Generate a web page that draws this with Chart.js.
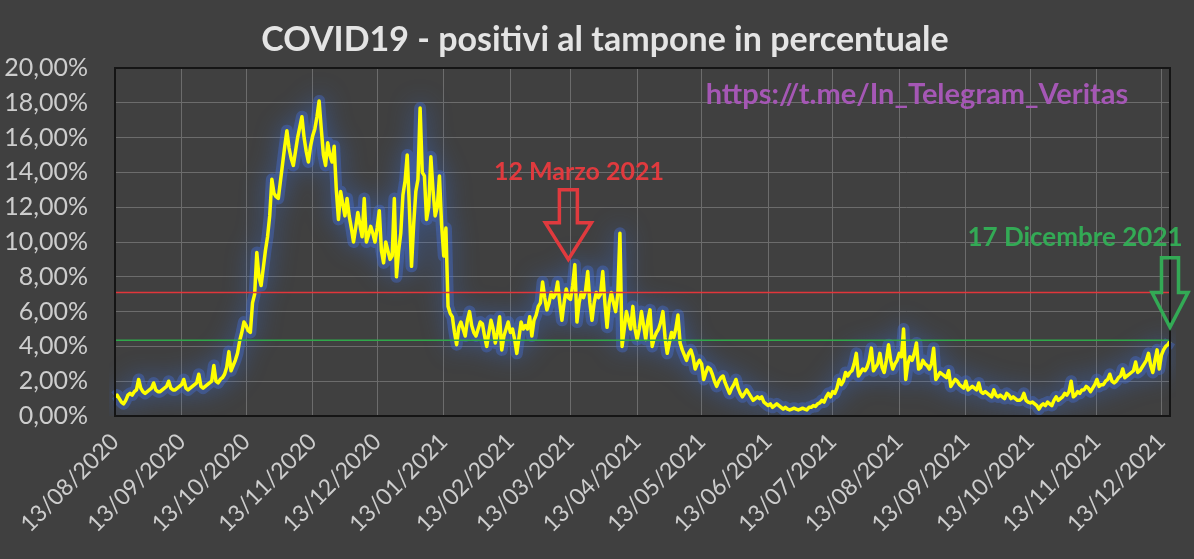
<!DOCTYPE html>
<html>
<head>
<meta charset="utf-8">
<script src="https://cdn.jsdelivr.net/npm/chart.js@4.4.0/dist/chart.umd.min.js"></script>
<style>
  html, body { margin: 0; padding: 0; background: #404040; }
  #grafico { display: block; }
</style>
</head>
<body>
<canvas id="grafico" width="1194" height="559"></canvas>
<script>
// positivi al tampone (%), un valore al giorno dal 13/08/2020 al 17/12/2021
const ago2020 = [1.1,1.2,1.0,0.8,0.7,0.9,1.2,1.3,1.2,1.4,1.5,2.1,1.6,1.4,1.3,1.4,1.5,1.6,1.9];
const set2020 = [1.5,1.4,1.4,1.5,1.6,1.7,2.0,1.6,1.5,1.5,1.6,1.7,1.8,2.1,1.6,1.5,1.6,1.7,1.8,1.9,2.4,1.7,1.6,1.7,1.8,1.9,2.0,2.9,2.0,1.9];
const ott2020 = [2.1,2.2,2.4,2.8,3.7,2.6,2.9,3.2,3.6,4.3,4.8,5.4,5.2,4.9,4.8,6.5,7.0,9.4,8.0,7.5,8.5,9.5,10.3,11.5,13.6,12.8,12.6,12.5,13.5,14.5,15.5];
const nov2020 = [16.4,15.4,14.8,14.4,15.2,16.0,16.6,17.2,16.0,15.2,14.6,15.5,16.1,16.5,17.2,18.1,16.5,15.0,14.4,15.7,15.0,14.6,15.5,13.0,11.3,12.9,12.2,11.5,12.5,11.5];
const dic2020 = [10.8,10.0,10.8,11.7,11.0,10.3,12.5,10.0,10.4,10.9,10.5,10.0,10.8,11.8,9.5,8.8,10.0,9.5,9.0,9.2,12.5,8.0,9.5,10.5,12.7,13.5,15.0,12.0,8.6,11.0,12.9];
const gen2021 = [13.6,17.7,14.0,13.8,11.3,12.0,14.9,13.0,11.5,12.0,13.8,11.0,9.2,10.8,6.3,5.9,5.7,4.8,4.1,5.1,5.4,5.0,4.6,5.5,6.0,5.2,4.8,4.6,5.0,5.4,5.3];
const feb2021 = [4.6,4.0,4.8,5.5,5.0,4.2,4.8,5.7,3.8,4.6,5.0,5.4,4.8,5.0,4.4,3.6,4.5,5.4,5.0,5.2,5.0,5.7,4.6,5.5,5.8,6.3,6.5,7.7];
const mar2021 = [6.8,6.1,6.5,7.1,6.8,7.0,7.7,6.5,5.5,6.5,7.3,6.8,6.7,7.5,8.7,5.4,6.5,7.1,6.8,7.2,8.3,6.5,5.5,6.5,7.1,6.8,7.0,8.3,6.5,5.1,6.5];
const apr2021 = [7.1,6.5,6.0,7.0,10.5,4.0,5.0,6.0,5.5,5.0,6.3,5.0,4.4,5.0,6.0,5.2,4.4,5.5,6.1,4.0,4.5,4.8,5.0,5.4,6.0,4.5,3.6,4.2,4.8,4.5];
const mag2021 = [5.0,5.8,4.2,3.8,3.5,3.2,3.6,3.8,3.4,2.7,3.0,3.2,3.0,2.1,2.5,2.8,2.7,2.4,2.0,1.7,2.0,2.2,2.3,1.9,1.6,1.3,1.6,1.8,2.1,1.6,1.3];
const giu2021 = [1.1,1.3,1.5,1.3,1.1,0.9,1.0,1.1,1.0,1.1,0.8,0.7,0.6,0.7,0.5,0.6,0.7,0.6,0.5,0.4,0.5,0.4,0.35,0.4,0.45,0.4,0.35,0.4,0.45,0.4];
const lug2021 = [0.35,0.5,0.5,0.6,0.55,0.7,0.75,0.9,0.8,1.1,1.3,1.1,1.4,1.3,1.6,2.1,1.8,2.0,2.5,2.3,2.5,2.6,3.0,3.6,2.3,2.5,2.7,2.6,2.8,3.2,3.9];
const ago2021 = [2.6,2.8,3.0,3.6,2.8,2.5,3.2,4.1,3.2,2.7,3.0,3.2,3.6,3.4,5.0,2.1,3.0,3.4,3.2,3.6,4.2,2.7,2.8,3.2,3.0,2.9,2.7,3.0,3.9,2.1,2.3];
const set2021 = [2.5,2.4,2.3,2.2,2.6,1.7,1.9,2.1,2.0,1.8,1.7,1.6,2.0,1.5,1.6,1.7,1.6,1.5,1.9,1.4,1.3,1.4,1.3,1.2,1.1,1.5,1.2,1.1,1.2,1.1];
const ott2021 = [1.0,1.3,1.2,1.0,1.1,1.0,0.9,0.9,1.0,1.3,0.9,0.8,0.75,0.8,0.7,0.6,0.4,0.6,0.7,0.6,0.8,0.7,0.6,0.9,1.1,0.9,1.0,1.1,1.3,1.2,1.4];
const nov2021 = [2.0,1.1,1.2,1.4,1.3,1.5,1.5,1.7,1.6,1.4,1.6,1.8,2.1,1.7,1.8,1.8,2.0,2.1,2.4,2.0,1.9,2.0,2.2,2.3,2.7,2.2,2.3,2.4,2.5,2.6];
const dic2021 = [3.1,2.5,2.6,2.8,3.0,3.2,3.6,2.9,2.5,3.2,3.8,2.7,3.5,3.8,4.0,4.1,4.3];

const serie = [].concat(ago2020, set2020, ott2020, nov2020, dic2020, gen2021, feb2021,
  mar2021, apr2021, mag2021, giu2021, lug2021, ago2021, set2021, ott2021, nov2021, dic2021);

const etichetteMesi = ['13/08/2020','13/09/2020','13/10/2020','13/11/2020','13/12/2020',
  '13/01/2021','13/02/2021','13/03/2021','13/04/2021','13/05/2021','13/06/2021',
  '13/07/2021','13/08/2021','13/09/2021','13/10/2021','13/11/2021','13/12/2021'];

const sogliaRossa = 7.1;
const sogliaVerde = 4.35;

const titolo = 'COVID19 - positivi al tampone in percentuale';
const link = 'https://t.me/In_Telegram_Veritas';

// date giornaliere per l'asse x
const due = n => String(n).padStart(2, '0');
const giorni = serie.map((v, i) => {
  const d = new Date(2020, 7, 13 + i);
  return due(d.getDate()) + '/' + due(d.getMonth() + 1) + '/' + d.getFullYear();
});

function freccia(c, cx, yTop, yHead, yTip, sw, hw, colore) {
  c.beginPath();
  c.moveTo(cx - sw, yTop); c.lineTo(cx + sw, yTop); c.lineTo(cx + sw, yHead);
  c.lineTo(cx + hw, yHead); c.lineTo(cx, yTip); c.lineTo(cx - hw, yHead);
  c.lineTo(cx - sw, yHead); c.closePath();
  c.strokeStyle = colore; c.lineWidth = 3.5; c.lineJoin = 'miter';
  c.stroke();
}

const bagliore = {
  id: 'bagliore',
  beforeDatasetDraw(chart, args) {
    if (args.index !== 1) return;
    chart.ctx.save();
    chart.ctx.shadowColor = 'rgba(55,115,235,0.95)';
    chart.ctx.shadowBlur = 24;
  },
  afterDatasetDraw(chart, args) {
    if (args.index === 1) chart.ctx.restore();
  }
};

const soglie = {
  id: 'soglie',
  afterDatasetsDraw(chart) {
    const c = chart.ctx, a = chart.chartArea, y = chart.scales.y;
    c.save();
    c.lineWidth = 1.5;
    c.strokeStyle = '#e2363b';
    c.beginPath(); c.moveTo(a.left, y.getPixelForValue(sogliaRossa)); c.lineTo(a.right, y.getPixelForValue(sogliaRossa)); c.stroke();
    c.strokeStyle = '#2fa84a';
    c.beginPath(); c.moveTo(a.left, y.getPixelForValue(sogliaVerde)); c.lineTo(a.right, y.getPixelForValue(sogliaVerde)); c.stroke();
    c.restore();
  }
};

const testi = {
  id: 'testi',
  afterDraw(chart) {
    const c = chart.ctx, a = chart.chartArea, x = chart.scales.x, y = chart.scales.y;
    c.save();
    c.strokeStyle = '#151515'; c.lineWidth = 2;
    c.strokeRect(a.left, a.top, a.right - a.left, a.bottom - a.top);

    c.textAlign = 'center'; c.textBaseline = 'alphabetic';
    c.font = 'bold 34px Lato';
    c.fillStyle = '#e4e4e4';
    c.fillText(titolo, 605, 51);

    c.font = 'bold 29px Lato';
    c.fillStyle = '#a557b5';
    c.fillText(link, 917, 104);

    // 12 marzo
    const xm = x.getPixelForValue(giorni.indexOf('12/03/2021'));
    c.font = 'bold 25px Lato';
    c.fillStyle = '#e03a3e';
    c.fillText('12 Marzo 2021', 579, 180);
    freccia(c, xm, y.getPixelForValue(13.0), y.getPixelForValue(11.1), y.getPixelForValue(9.0), 9, 23, '#e03a3e');

    // 17 dicembre
    const xd = x.getPixelForValue(serie.length - 1);
    c.font = 'bold 26px Lato';
    c.fillStyle = '#33aa55';
    c.fillText('17 Dicembre 2021', 1075, 246);
    freccia(c, xd, y.getPixelForValue(9.1), y.getPixelForValue(7.1), y.getPixelForValue(5.1), 8.5, 18, '#33aa55');
    c.restore();
  }
};

new Chart(document.getElementById('grafico'), {
  type: 'line',
  data: {
    labels: giorni,
    datasets: [
      { data: serie, borderColor: '#ffff00', borderWidth: 3.5, pointRadius: 0, tension: 0, borderJoinStyle: 'round' },
      { data: serie, borderColor: 'rgba(70,110,210,0.4)', borderWidth: 12, pointRadius: 0, tension: 0, borderJoinStyle: 'round' }
    ]
  },
  options: {
    responsive: false,
    animation: false,
    devicePixelRatio: 1,
    layout: { padding: { top: 68, right: 24, left: 0, bottom: 0 } },
    plugins: { legend: { display: false }, tooltip: { enabled: false } },
    scales: {
      x: {
        ticks: {
          autoSkip: false, minRotation: 45, maxRotation: 45, padding: 12,
          color: '#cdcdcd', font: { family: 'Lato', size: 23 },
          callback: (v, i) => etichetteMesi.includes(giorni[i]) ? giorni[i] : null
        },
        grid: { color: '#6c6c6c', drawTicks: false },
        border: { color: '#151515', width: 2 },
        afterFit: s => { s.height = 143; }
      },
      y: {
        min: 0, max: 20,
        ticks: {
          stepSize: 2, padding: 27,
          color: '#cdcdcd', font: { family: 'Lato', size: 25 },
          callback: v => v.toFixed(2).replace('.', ',') + '%'
        },
        grid: { color: '#6c6c6c', drawTicks: false },
        border: { color: '#151515', width: 2 },
        afterFit: s => { s.width = 115; }
      }
    }
  },
  plugins: [bagliore, soglie, testi]
});
</script>
</body>
</html>
